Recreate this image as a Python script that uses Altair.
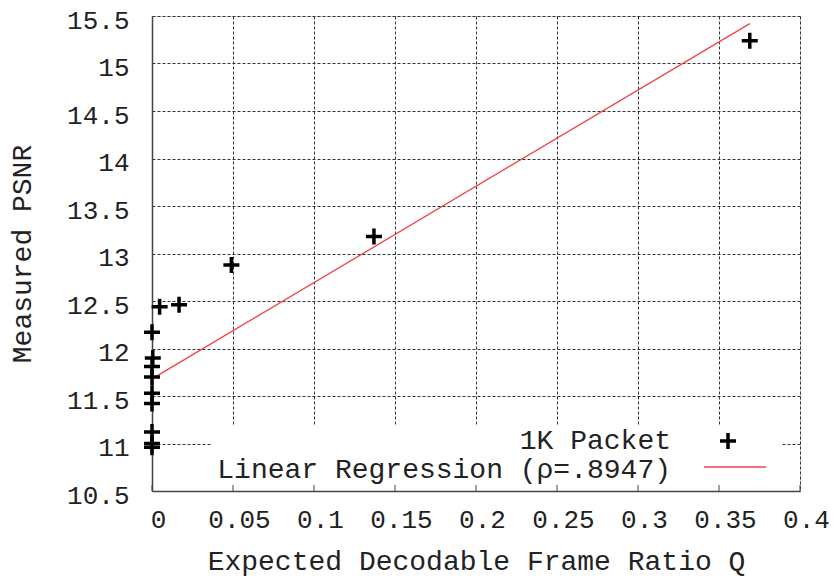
import altair as alt
import pandas as pd

# Measured points (1K Packet)
q_values = [0.0, 0.0005, 0.0, 0.0, 0.0, 0.0, 0.0, 0.0, 0.0, 0.0047, 0.0167, 0.049, 0.137, 0.369]
psnr_values = [12.17, 11.90, 11.81, 11.70, 11.53, 11.42, 11.12, 11.00, 10.96, 12.44, 12.46, 12.88, 13.18, 15.24]

# Linear regression line end points
reg_q = [0.0, 0.369]
reg_psnr = [11.68, 15.42]

x_ticks = [0, 0.05, 0.1, 0.15, 0.2, 0.25, 0.3, 0.35, 0.4]
y_ticks = [10.5, 11, 11.5, 12, 12.5, 13, 13.5, 14, 14.5, 15, 15.5]

legend_points = "1K Packet"
legend_line = "Linear Regression (ρ=.8947)"

FONT = "Liberation Mono"
W, H = 648, 475

pts = pd.DataFrame({"q": q_values, "psnr": psnr_values})
reg = pd.DataFrame({"q": reg_q, "psnr": reg_psnr})
ticks_df = pd.DataFrame({"q": x_ticks})

PLUS = "M-1,0L1,0M0,-1L0,1"

xscale = alt.Scale(domain=[0, 0.4], nice=False, zero=False)
yscale = alt.Scale(domain=[10.5, 15.5], nice=False, zero=False)

xaxis = alt.Axis(
    values=x_ticks, format="~g", title="Expected Decodable Frame Ratio Q",
    grid=True, gridColor="#333", gridDash=[3, 2], gridWidth=1,
    ticks=False, domainColor="#444", domainWidth=1.5,
    labelFont=FONT, labelFontSize=26, labelColor="#222", labelPadding=15,
    labelOffset=6, labelFlush=False, labelOverlap=False,
    titleFont=FONT, titleFontSize=28, titleFontWeight="normal", titleColor="#222",
    titleX=W / 2, titleY=70, titleBaseline="middle", titleAlign="center",
)
yaxis = alt.Axis(
    values=y_ticks, format="~g", title="Measured PSNR",
    grid=True, gridColor="#333", gridDash=[3, 2], gridWidth=1,
    ticks=False, domainColor="#444", domainWidth=1.5,
    labelFont=FONT, labelFontSize=26, labelColor="#222", labelPadding=23,
    labelOffset=4, labelFlush=False, labelOverlap=False,
    titleFont=FONT, titleFontSize=28, titleFontWeight="normal", titleColor="#222",
    titleX=-130, titleY=H / 2, titleAngle=-90, titleBaseline="middle", titleAlign="center",
)

points = alt.Chart(pts).mark_point(
    shape=PLUS, size=256, strokeWidth=3.5, color="black", filled=False, opacity=1
).encode(
    x=alt.X("q:Q", scale=xscale, axis=xaxis),
    y=alt.Y("psnr:Q", scale=yscale, axis=yaxis),
)

line = alt.Chart(reg).mark_line(color="#ee4444", strokeWidth=1.3).encode(
    x=alt.X("q:Q", scale=xscale),
    y=alt.Y("psnr:Q", scale=yscale),
)

legend_bg = alt.Chart(pd.DataFrame({"k": [0]})).mark_rect(fill="white").encode(
    x=alt.value(59), x2=alt.value(629), y=alt.value(409), y2=alt.value(474)
)

inner_ticks = alt.Chart(ticks_df).mark_rule(color="#444", strokeWidth=1).encode(
    x=alt.X("q:Q", scale=xscale), y=alt.value(H - 6), y2=alt.value(H)
)

leg_df = pd.DataFrame({"k": [0]})
leg_text1 = alt.Chart(leg_df).mark_text(
    text=legend_points, font=FONT, fontSize=28, align="right", baseline="middle", color="#222"
).encode(x=alt.value(519), y=alt.value(425))
leg_text2 = alt.Chart(leg_df).mark_text(
    text=legend_line, font=FONT, fontSize=28, align="right", baseline="middle", color="#222"
).encode(x=alt.value(519), y=alt.value(454))
leg_sym = alt.Chart(leg_df).mark_point(
    shape=PLUS, size=256, strokeWidth=3.5, color="black", filled=False, opacity=1
).encode(x=alt.value(576), y=alt.value(425))
leg_line = alt.Chart(leg_df).mark_rule(color="#ee4444", strokeWidth=1.3).encode(
    x=alt.value(552), x2=alt.value(614), y=alt.value(451)
)

chart = alt.layer(
    legend_bg, line, points, inner_ticks, leg_text1, leg_text2, leg_sym, leg_line
).properties(
    width=W, height=H,
    autosize=alt.AutoSizeParams(type="none"),
    padding={"left": 144, "top": 8, "right": 30, "bottom": 87},
).configure_view(stroke=None).configure(background="white")

chart.save("out.html", embed_options={"renderer": "svg", "actions": False})
